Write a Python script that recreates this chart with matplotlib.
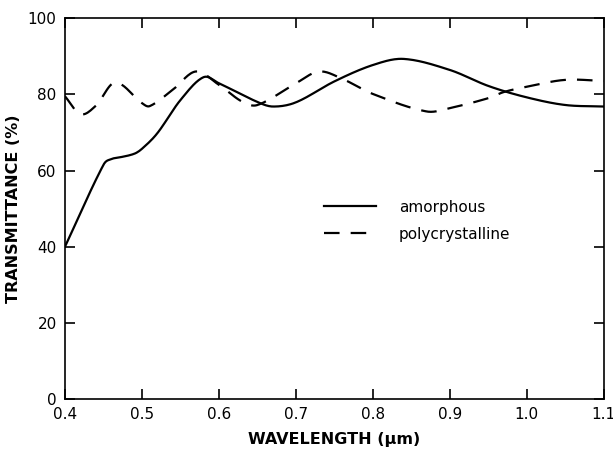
import numpy as np
import matplotlib
matplotlib.use("Agg")
import matplotlib.pyplot as plt

# Amorphous (solid)
amor_x = [0.40, 0.45, 0.46, 0.47, 0.49, 0.50, 0.52, 0.55, 0.58, 0.60, 0.65, 0.67, 0.70,
          0.75, 0.80, 0.84, 0.90, 0.95, 1.00, 1.05, 1.10]
amor_y = [40.0, 61.5, 63.0, 63.4, 64.4, 65.7, 69.8, 78.5, 84.5, 82.9, 78.0, 76.8, 77.9,
          83.4, 87.7, 89.3, 86.4, 82.2, 79.2, 77.2, 76.8]

# Polycrystalline (dashed)
poly_x = [0.40, 0.42, 0.44, 0.465, 0.50, 0.51, 0.54, 0.57, 0.60, 0.63, 0.65, 0.70,
          0.73, 0.76, 0.80, 0.87, 0.90, 0.95, 0.97, 1.00, 1.05, 1.10]
poly_y = [79.5, 74.8, 77.0, 83.1, 77.7, 76.9, 81.2, 86.0, 82.5, 78.1, 77.2, 82.9,
          86.0, 84.1, 80.1, 75.5, 76.4, 79.0, 80.6, 82.0, 83.8, 83.5]

x_ticks = [0.4, 0.5, 0.6, 0.7, 0.8, 0.9, 1.0, 1.1]
x_labels = ["0.4", "0.5", "0.6", "0.7", "0.8", "0.9", "1.0", "1.1"]
y_ticks = [0, 20, 40, 60, 80, 100]


def smooth(xs, ys, n=400):
    xs = np.asarray(xs, float)
    ys = np.asarray(ys, float)
    m = np.zeros_like(ys)
    d = np.diff(ys) / np.diff(xs)
    m[0] = d[0]
    m[-1] = d[-1]
    for i in range(1, len(xs) - 1):
        m[i] = (ys[i + 1] - ys[i - 1]) / (xs[i + 1] - xs[i - 1])
    xx = np.linspace(xs[0], xs[-1], n)
    yy = np.empty_like(xx)
    for k, xv in enumerate(xx):
        i = min(np.searchsorted(xs, xv, side="right") - 1, len(xs) - 2)
        h = xs[i + 1] - xs[i]
        t = (xv - xs[i]) / h
        h00 = 2 * t**3 - 3 * t**2 + 1
        h10 = t**3 - 2 * t**2 + t
        h01 = -2 * t**3 + 3 * t**2
        h11 = t**3 - t**2
        yy[k] = h00 * ys[i] + h10 * h * m[i] + h01 * ys[i + 1] + h11 * h * m[i + 1]
    return xx, yy


plt.rcParams['font.family'] = ['DejaVu Sans']
fig = plt.figure(figsize=(6.13, 4.54), dpi=100)
ax = fig.add_axes([0.106, 0.121, 0.879, 0.839])

ax1x, ax1y = smooth(amor_x, amor_y)
ax2x, ax2y = smooth(poly_x, poly_y)
ax.plot(ax1x, ax1y, color="black", lw=1.6, label="amorphous")
ax.plot(ax2x, ax2y, color="black", lw=1.6, dashes=(7, 5), label="polycrystalline")

ax.set_xlim(0.4, 1.1)
ax.set_ylim(0, 100)
ax.set_xticks(x_ticks)
ax.set_xticklabels(x_labels)
ax.set_yticks(y_ticks)
ax.tick_params(direction="in", length=7, width=1.2, top=True, right=True,
               labelsize=11, pad=6)
for s in ax.spines.values():
    s.set_linewidth(1.2)

ax.set_xlabel("WAVELENGTH (μm)", fontsize=11.5, fontweight="bold", labelpad=7)
ax.set_ylabel("TRANSMITTANCE (%)", fontsize=11.5, fontweight="bold", labelpad=5)

leg = ax.legend(loc="upper left", bbox_to_anchor=(0.455, 0.56), frameon=False,
                fontsize=11, handlelength=3.4, handletextpad=1.5, labelspacing=0.8)

fig.savefig("out.png", dpi=100)
